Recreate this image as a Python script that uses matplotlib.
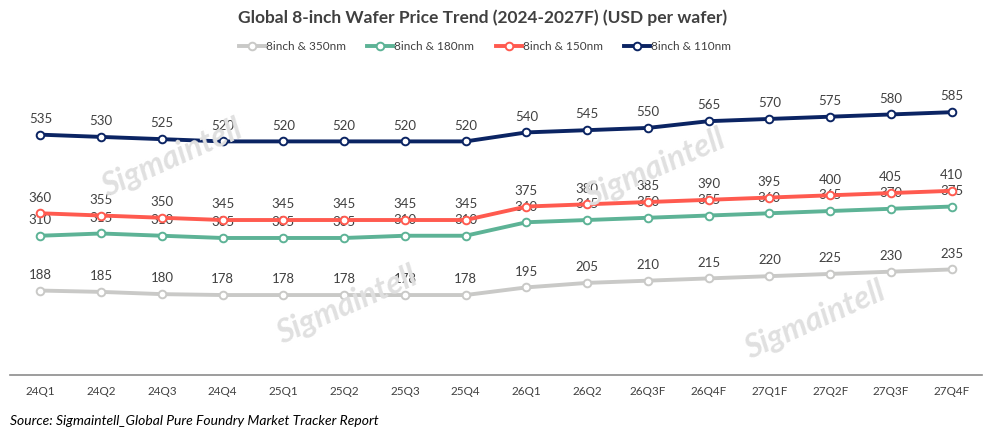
import numpy as np
import matplotlib.pyplot as plt

plt.rcParams['font.family'] = ['Lato', 'DejaVu Sans']

quarters = ["24Q1", "24Q2", "24Q3", "24Q4", "25Q1", "25Q2", "25Q3", "25Q4",
            "26Q1", "26Q2", "26Q3F", "26Q4F", "27Q1F", "27Q2F", "27Q3F", "27Q4F"]
p350 = [188, 185, 180, 178, 178, 178, 178, 178, 195, 205, 210, 215, 220, 225, 230, 235]
p180 = [310, 315, 310, 305, 305, 305, 310, 310, 340, 345, 350, 355, 360, 365, 370, 375]
p150 = [360, 355, 350, 345, 345, 345, 345, 345, 375, 380, 385, 390, 395, 400, 405, 410]
p110 = [535, 530, 525, 520, 520, 520, 520, 520, 540, 545, 550, 565, 570, 575, 580, 585]
names = ["8inch & 350nm", "8inch & 180nm", "8inch & 150nm", "8inch & 110nm"]
colors = ["#C9C9C7", "#5DB396", "#FF5A4F", "#0B2463"]

W, H = 996, 440
fig = plt.figure(figsize=(W / 100, H / 100), dpi=100)
ax = fig.add_axes([10 / W, 65 / H, 972 / W, 292 / H])
ax.patch.set_alpha(0)

# watermarks
for wx, wy in [(172, 158), (655, 168), (347, 305), (815, 320)]:
    fig.text(wx / W, 1 - wy / H, "Sigmaintell", fontsize=23, color="#E0E0E0",
             rotation=24, ha="center", va="center", fontweight="bold",
             fontstyle="italic", zorder=0)

x = np.arange(len(quarters))
for vals, name, c in zip([p350, p180, p150, p110], names, colors):
    ax.plot(x, vals, color=c, lw=2.8, marker="o", ms=5.5, mfc="white", mec=c,
            mew=1.4, label=name, zorder=3)
    for xi, v in zip(x, vals):
        ax.annotate(str(v), (xi, v), xytext=(0, 7), textcoords="offset points",
                    ha="center", va="bottom", fontsize=9.5, color="#404040")

ax.set_xlim(-0.5, len(quarters) - 0.5)
ax.set_ylim(0, 650)
ax.set_xticks(x)
ax.set_xticklabels(quarters, fontsize=8.5, color="#404040")
ax.tick_params(axis="x", length=0, pad=8)
ax.set_yticks([])
for s in ["top", "right", "left"]:
    ax.spines[s].set_visible(False)
ax.spines["bottom"].set_color("#8C8C8C")
ax.spines["bottom"].set_linewidth(1.2)

fig.text(483 / W, 1 - 18 / H, "Global 8-inch Wafer Price Trend (2024-2027F) (USD per wafer)",
         ha="center", va="center", fontsize=12.5, fontweight="bold", color="#404040")
fig.legend(loc="center", bbox_to_anchor=(485 / W, 1 - 47 / H), ncol=4, frameon=False,
           fontsize=8.5, handlelength=2.2, handletextpad=0.1, columnspacing=1.8,
           labelcolor="#404040")
fig.text(10 / W, 1 - 421 / H, "Source: Sigmaintell_Global Pure Foundry Market Tracker Report",
         ha="left", va="center", fontsize=10, fontstyle="italic", color="#000000")

fig.savefig("out.png", dpi=100)
